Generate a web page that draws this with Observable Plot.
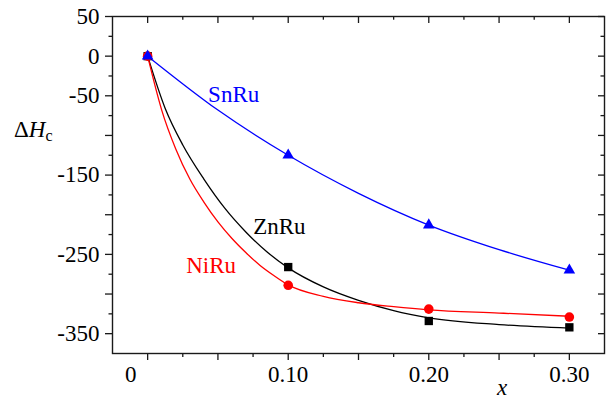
<!DOCTYPE html>
<html><head><meta charset="utf-8">
<script src="https://cdn.jsdelivr.net/npm/d3@7"></script>
<script src="https://cdn.jsdelivr.net/npm/@observablehq/plot@0.6"></script>
<style>
body{margin:0;background:#fff}
svg, svg text { font-family: "Liberation Serif", "Times New Roman", Times, "DejaVu Serif", serif !important; }
</style>
</head><body><div id="chart"></div>
<script>
// measured compositions
const xs = [0, 0.1, 0.2, 0.3];
const snRu = [0, -125, -213, -270];
const znRu = [0, -266, -334, -342];
const niRu = [0, -289, -319, -329];

// fitted curves, points
const snCurveX = [0, 0.05, 0.1, 0.15, 0.2, 0.25, 0.3];
const snCurveY = [0, -68, -125, -173, -213, -244, -270];
const znCurveX = [0, 0.0125, 0.025, 0.04, 0.055, 0.07, 0.085, 0.1, 0.125, 0.15, 0.175, 0.2, 0.25, 0.3];
const znCurveY = [0, -66, -112, -155, -192, -222, -247, -267, -291, -308, -321, -330, -338.5, -343];
const niCurveX = [0, 0.01, 0.02, 0.03, 0.04, 0.05, 0.06, 0.07, 0.08, 0.09, 0.1, 0.125, 0.15, 0.175, 0.2, 0.25, 0.3];
const niCurveY = [0, -68, -117, -155, -184, -209, -230, -248, -264, -277, -288.5, -303, -311, -316, -320, -324, -328];

// series labels
const labelNames = ["SnRu", "ZnRu", "NiRu"];
const labelX = [0.0612, 0.0937, 0.0452];
const labelY = [-49, -215, -264];
const labelColors = ["#0000ff", "#000000", "#ff0000"];

// ticks
const yMajor = [50, 0, -50, -100, -150, -200, -250, -300, -350];
const yMinor = [25, -25, -75, -125, -175, -225, -275, -325];
const yLabels = [50, 0, -50, -150, -250, -350];
const xMajor = [0, 0.05, 0.1, 0.15, 0.2, 0.25, 0.3];
const xMinor = [0.025, 0.075, 0.125, 0.175, 0.225, 0.275];
const xLabels = [0.1, 0.2, 0.3];

const W = 607, H = 399;
const mL = 112, mR = 3, mT = 16, mB = 46;
const fw = W - mL - mR, fh = H - mT - mB;
const axisColor = "#1a1a1a";
const serif = "'Liberation Serif', 'Times New Roman', Times, 'DejaVu Serif', serif";
const FS = 23;

const toRows = (X, Y) => X.map((x, i) => ({x, y: Y[i]}));
const snPts = toRows(xs, snRu), znPts = toRows(xs, znRu), niPts = toRows(xs, niRu);
const labels = labelNames.map((t, i) => ({t, x: labelX[i], y: labelY[i], c: labelColors[i]}));

const chart = Plot.plot({
  width: W, height: H,
  marginLeft: mL, marginRight: mR, marginTop: mT, marginBottom: mB,
  style: {fontFamily: serif, fontSize: FS + "px", background: "#fff"},
  x: {domain: [-0.025, 0.325]},
  y: {domain: [-375, 50]},
  marks: [
    // fitted curves
    Plot.line(toRows(snCurveX, snCurveY), {x: "x", y: "y", stroke: "#0000ff", strokeWidth: 1.3, curve: "monotone-x"}),
    Plot.line(toRows(znCurveX, znCurveY), {x: "x", y: "y", stroke: "#000000", strokeWidth: 1.3, curve: "monotone-x"}),
    Plot.line(toRows(niCurveX, niCurveY), {x: "x", y: "y", stroke: "#ff0000", strokeWidth: 1.3, curve: "monotone-x"}),
    // data markers
    Plot.dot(znPts, {x: "x", y: "y", symbol: "square", r: 4.7, fill: "#000000", stroke: "none"}),
    Plot.dot(niPts, {x: "x", y: "y", symbol: "circle", r: 4.8, fill: "#ff0000", stroke: "none"}),
    Plot.dot(snPts, {x: "x", y: "y", symbol: "triangle", r: 4.3, fill: "#0000ff", stroke: "none"}),
    // series labels
    Plot.text(labels, {x: "x", y: "y", text: "t", fill: "c", fontSize: FS}),
    // left axis: outward ticks + labels
    Plot.axisY({ticks: yMajor, tickSize: 7, fill: "none", stroke: axisColor, strokeWidth: 1.3}),
    Plot.axisY({ticks: yMinor, tickSize: 3.5, fill: "none", stroke: axisColor, strokeWidth: 1.3}),
    Plot.axisY({ticks: yLabels, tickSize: 0, tickPadding: 13, fontSize: FS, fill: "#000", tickFormat: d => String(d), label: null}),
    // bottom axis: outward ticks + labels
    Plot.axisX({ticks: xMajor, tickSize: 7, fill: "none", stroke: axisColor, strokeWidth: 1.3}),
    Plot.axisX({ticks: xMinor, tickSize: 4, fill: "none", stroke: axisColor, strokeWidth: 1.3}),
    Plot.axisX({ticks: xLabels, tickSize: 0, tickPadding: 12, fontSize: FS, fill: "#000", tickFormat: d3.format(".2f"), label: null}),
    Plot.axisX({ticks: [0], tickSize: 0, tickPadding: 12, dx: -17, fontSize: FS, fill: "#000", tickFormat: d => "0", label: null}),
    // right axis: inward ticks
    Plot.ruleY(yMajor, {insetLeft: fw - 6, stroke: axisColor, strokeWidth: 1.3}),
    Plot.ruleY(yMinor, {insetLeft: fw - 3.5, stroke: axisColor, strokeWidth: 1.3}),
    // top axis: inward ticks
    Plot.ruleX(xMajor, {insetBottom: fh - 7, stroke: axisColor, strokeWidth: 1.3}),
    Plot.ruleX(xMinor, {insetBottom: fh - 3.7, stroke: axisColor, strokeWidth: 1.3}),
    Plot.frame({stroke: axisColor, strokeWidth: 1.4})
  ]
});

const svg = d3.select(chart);
// y-axis title: ΔH_c
const yt = svg.append("text")
  .attr("x", 14).attr("y", 137).attr("text-anchor", "start")
  .style("font-family", serif).style("font-size", FS + "px").attr("fill", "#000");
yt.append("tspan").text("Δ");
yt.append("tspan").attr("font-style", "italic").text("H");
yt.append("tspan").style("font-size", "16px").attr("dy", 4).text("c");
// x-axis title
svg.append("text")
  .attr("x", 502).attr("y", 395).attr("text-anchor", "middle")
  .style("font-family", serif).style("font-size", FS + "px")
  .attr("font-style", "italic").attr("fill", "#000").text("x");

document.getElementById("chart").appendChild(chart);
</script>
</body></html>
